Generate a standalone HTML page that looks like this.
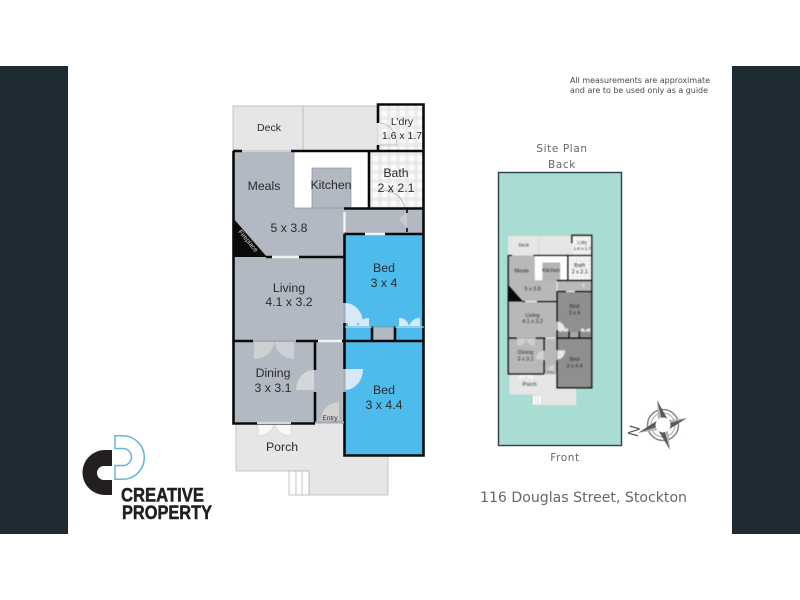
<!DOCTYPE html>
<html><head><meta charset="utf-8"><style>
html,body{margin:0;padding:0;background:#fff}
svg{display:block}
text{font-family:"Liberation Sans",sans-serif}
.p text{fill:#2a2a2a;text-anchor:middle}
.soft{filter:blur(.35px)}
.soft2{filter:blur(.45px)}
</style></head><body>
<svg width="800" height="600" viewBox="0 0 800 600" xmlns="http://www.w3.org/2000/svg">
<defs>
<pattern id="ck" x="369" y="152" width="9" height="9" patternUnits="userSpaceOnUse"><rect width="9" height="9" fill="#fbfbfb"/><rect x="0" width="4" height="9" fill="#e4e4e4" opacity=".55"/><rect y="0" width="9" height="4" fill="#e4e4e4" opacity=".55"/></pattern>
</defs>
<rect width="800" height="600" fill="#fff"/>
<rect x="0" y="66" width="68" height="468" fill="#1f2b33"/>
<rect x="732" y="66" width="68" height="468" fill="#1f2b33"/>

<g class="soft">
<!-- floors -->
<rect x="233" y="106" width="145" height="45" fill="#e6e6e6" stroke="#b9b9b9" stroke-width=".8"/>
<line x1="303" y1="106" x2="303" y2="151" stroke="#b5b5b5" stroke-width=".8"/>
<path d="M236 422H344V455H388V495H309V471H236Z" fill="#e6e6e6" stroke="#b9b9b9" stroke-width=".8"/>
<rect x="289" y="471" width="20" height="24" fill="#fff" stroke="#b5b5b5" stroke-width=".8"/>
<path d="M296 471V495M302 471V495" stroke="#b5b5b5" stroke-width=".8"/>
<rect x="378" y="105" width="46" height="47" fill="url(#ck)"/>
<rect x="369" y="152" width="55" height="56" fill="url(#ck)"/>
<path d="M233 152H294V208H312V168H351V208H344V257H233Z" fill="#b3b9c2"/>
<rect x="294" y="152" width="75" height="56" fill="#fff"/>
<rect x="312" y="168" width="39" height="40" fill="#b3b9c2" stroke="#8f949b" stroke-width=".7"/>
<path d="M294 152V208H312" fill="none" stroke="#8f949b" stroke-width=".7"/>
<rect x="344" y="208" width="80" height="26" fill="#b3b9c2"/>
<rect x="233" y="257" width="111" height="84" fill="#b3b9c2"/>
<rect x="233" y="341" width="111" height="81" fill="#b3b9c2"/>
<rect x="344" y="234" width="80" height="221" fill="#4dbcec"/>
<rect x="372" y="327" width="23" height="14" fill="#b3b9c2"/>
<path d="M233 218L267 257H233Z" fill="#0a0a0a"/>
<!-- door leaves -->
<path d="M345 323V303A18 20 0 0 1 363 323Z" fill="#d7e9f9"/>
<path d="M345 369H363A18 21 0 0 1 345 390Z" fill="#d7e9f9"/>
<path d="M348 326V318Q356 318 358 326ZM369 326V318Q361 318 358 326ZM399 326V318Q407 318 409 326ZM420 326V318Q412 318 409 326Z" fill="#d7e9f9"/>
<path d="M254 342V359A20 17 0 0 0 274 342ZM294 342V359A20 17 0 0 1 275 342Z" fill="#cdd0d3"/>
<path d="M314 370A18 20 0 0 0 296 390H314Z" fill="#d4d6d8"/>
<path d="M339 402A18 18 0 0 0 321 420H339Z" fill="#d2d2d2"/>
<path d="M258 423V436A17 13 0 0 0 274 423ZM291 423V436A16 13 0 0 1 275 423Z" fill="#f7f7f7" stroke="#c9c9c9" stroke-width=".5"/>
<path d="M407 212V228L399 219Z" fill="#c9cbce"/>
<path d="M383 190Q401 192 405 208" fill="none" stroke="#a8a8a8" stroke-width=".7"/>
<path d="M380 123Q395 124 397 145H380" fill="none" stroke="#b5b5b5" stroke-width=".7"/>
<!-- walls -->
<g fill="none" stroke="#0a0a0a" stroke-width="2.6">
<path d="M233.5 151V423.5H315"/>
<path d="M233 151H242M291 151H424"/>
<path d="M378 123V104.5H423.5V455.5H344.5V392"/>
<path d="M378 145V152"/>
<path d="M369 151V208"/>
<path d="M344 208.5H424"/>
<path d="M344.5 234H365M385 234H424"/>
<path d="M344.5 234V303M344.5 323V369"/>
<path d="M266 257H272M299 257H344"/>
<path d="M233 341H253M296 341H318M342 341H424"/>
<path d="M315 341V370M315 392V423"/>
<path d="M344 422V424"/>
<path d="M372 326V341M395 326V341"/>
</g>
<path d="M345 327H372M395 327H424" stroke="#d5e3ea" stroke-width="1"/>
<path d="M407 208V213M407 228V232" stroke="#0a0a0a" stroke-width="1.6"/>
<path d="M242 151H291" stroke="#cfcfcf" stroke-width="2"/>
<path d="M272 257H299M318 341H342M344.5 212V232M365 234H385" stroke="#f2f2f2" stroke-width="2.4" fill="none"/>
<path d="M253 341H296M315 422.5H344M344.5 303V323M344.5 369V392" stroke="#a6aaae" stroke-width="2" fill="none"/>
<path d="M257 423H291" stroke="#d8d8d8" stroke-width="2.5"/>
<path d="M372 327H395" stroke="#8c9096" stroke-width=".8"/>
<!-- labels -->
<g class="p">
<text x="269" y="131" font-size="10.5">Deck</text>
<text x="402" y="125" font-size="10.5">L’dry</text>
<text x="402" y="139" font-size="10.5">1.6 x 1.7</text>
<text x="264" y="190" font-size="12.3">Meals</text>
<text x="331" y="189" font-size="12.3">Kitchen</text>
<text x="396" y="177" font-size="12.3">Bath</text>
<text x="396" y="192" font-size="12.3">2 x 2.1</text>
<text x="289" y="232" font-size="12.3">5 x 3.8</text>
<text x="384" y="272" font-size="12.3">Bed</text>
<text x="384" y="287" font-size="12.3">3 x 4</text>
<text x="289" y="292" font-size="12.3">Living</text>
<text x="289" y="306" font-size="12.3">4.1 x 3.2</text>
<text x="273" y="377" font-size="12.3">Dining</text>
<text x="273" y="392" font-size="12.3">3 x 3.1</text>
<text x="384" y="394" font-size="12.3">Bed</text>
<text x="384" y="409" font-size="12.3">3 x 4.4</text>
<text x="282" y="451" font-size="12.3">Porch</text>
<text x="330" y="420" font-size="6.5">Entry</text>
<text x="0" y="0" font-size="6.5" transform="translate(238 232) rotate(50)" style="fill:#ddd;text-anchor:start">Fireplace</text>
</g>
</g>

<!-- site plan -->
<rect x="498.5" y="172.5" width="123" height="273" fill="#a9dcd3" stroke="#2d4046" stroke-width="1.4"/>
<g class="soft2">
<g transform="translate(508 235) scale(.44 .435) translate(-233 -104)">
<rect x="233" y="106" width="145" height="45" fill="#e6e6e6"/>
<line x1="303" y1="106" x2="303" y2="151" stroke="#c2c2c2" stroke-width=".8"/>
<path d="M236 422H344V455H388V495H309V471H236Z" fill="#e6e6e6"/>
<rect x="289" y="471" width="20" height="24" fill="#fff" stroke="#b5b5b5" stroke-width=".8"/>
<path d="M296 471V495M302 471V495" stroke="#b5b5b5" stroke-width="1.2"/>
<rect x="378" y="105" width="46" height="47" fill="url(#ck)"/>
<rect x="369" y="152" width="55" height="56" fill="url(#ck)"/>
<path d="M233 152H294V208H312V168H351V208H344V257H233Z" fill="#b8b8b8"/>
<rect x="294" y="152" width="75" height="56" fill="#fff"/>
<rect x="312" y="168" width="39" height="40" fill="#b4b4b4" stroke="#999" stroke-width=".7"/>
<rect x="344" y="208" width="80" height="26" fill="#b8b8b8"/>
<rect x="233" y="257" width="111" height="84" fill="#b8b8b8"/>
<rect x="233" y="341" width="111" height="81" fill="#b8b8b8"/>
<rect x="344" y="234" width="80" height="221" fill="#8f8f8f"/>
<rect x="372" y="327" width="23" height="14" fill="#a8a8a8"/>
<path d="M233 218L267 257H233Z" fill="#0a0a0a"/>
<path d="M345 323V303A18 20 0 0 1 363 323Z" fill="#e8e8e8"/>
<path d="M345 369H363A18 21 0 0 1 345 390Z" fill="#e8e8e8"/>
<path d="M348 326V318Q356 318 358 326ZM369 326V318Q361 318 358 326ZM399 326V318Q407 318 409 326ZM420 326V318Q412 318 409 326Z" fill="#e8e8e8"/>
<path d="M254 342V359A20 17 0 0 0 274 342ZM294 342V359A20 17 0 0 1 275 342Z" fill="#cfcfcf"/>
<path d="M314 370A18 20 0 0 0 296 390H314Z" fill="#d4d4d4"/>
<path d="M339 402A18 18 0 0 0 321 420H339Z" fill="#d2d2d2"/>
<path d="M258 423V436A17 13 0 0 0 274 423ZM291 423V436A16 13 0 0 1 275 423Z" fill="#f7f7f7"/>
<path d="M407 212V228L399 219Z" fill="#d0d0d0"/>
<g fill="none" stroke="#0a0a0a" stroke-width="2.8">
<path d="M233.5 151V423.5H315"/>
<path d="M233 151H242M291 151H424"/>
<path d="M378 123V104.5H423.5V455.5H344.5V392"/>
<path d="M369 151V208"/>
<path d="M344 208.5H424"/>
<path d="M344.5 234H365M385 234H424"/>
<path d="M344.5 234V303M344.5 323V369"/>
<path d="M266 257H272M299 257H344"/>
<path d="M233 341H253M296 341H318M342 341H424"/>
<path d="M315 341V370M315 392V423"/>
<path d="M372 326V341M395 326V341"/>
</g>
<path d="M272 257H299M318 341H342M344.5 212V232M365 234H385" stroke="#f2f2f2" stroke-width="2.6" fill="none"/>
<path d="M253 341H296M315 422.5H344M344.5 303V323M344.5 369V392" stroke="#a6a6a6" stroke-width="2.4" fill="none"/>
<g class="p">
<text x="269" y="131" font-size="10.5">Deck</text>
<text x="402" y="125" font-size="10.5">L’dry</text>
<text x="402" y="139" font-size="10.5">1.6 x 1.7</text>
<text x="264" y="190" font-size="12.3">Meals</text>
<text x="331" y="189" font-size="12.3">Kitchen</text>
<text x="396" y="177" font-size="12.3">Bath</text>
<text x="396" y="192" font-size="12.3">2 x 2.1</text>
<text x="289" y="232" font-size="12.3">5 x 3.8</text>
<text x="384" y="272" font-size="12.3">Bed</text>
<text x="384" y="287" font-size="12.3">3 x 4</text>
<text x="289" y="292" font-size="12.3">Living</text>
<text x="289" y="306" font-size="12.3">4.1 x 3.2</text>
<text x="273" y="377" font-size="12.3">Dining</text>
<text x="273" y="392" font-size="12.3">3 x 3.1</text>
<text x="384" y="394" font-size="12.3">Bed</text>
<text x="384" y="409" font-size="12.3">3 x 4.4</text>
<text x="282" y="451" font-size="12.3">Porch</text>
<text x="330" y="420" font-size="6.5">Entry</text>
</g>
</g>
</g>

<!-- captions -->
<g fill="#4a4a4a" font-size="8.2" class="soft">
<text x="570" y="83" textLength="140" lengthAdjust="spacingAndGlyphs" style="font-family:'DejaVu Sans',sans-serif">All measurements are approximate</text>
<text x="570" y="93" textLength="138" lengthAdjust="spacingAndGlyphs" style="font-family:'DejaVu Sans',sans-serif">and are to be used only as a guide</text>
</g>
<g fill="#666" text-anchor="middle" class="soft" style="letter-spacing:.6px">
<text x="562" y="152" style="font-family:'DejaVu Sans',sans-serif" font-size="10.5">Site Plan</text>
<text x="562" y="168" style="font-family:'DejaVu Sans',sans-serif" font-size="10.5">Back</text>
<text x="565" y="461" style="font-family:'DejaVu Sans',sans-serif" font-size="10.5">Front</text>
</g>
<text x="480" y="502" fill="#6a6664" font-size="14" textLength="207" lengthAdjust="spacingAndGlyphs" style="font-family:'DejaVu Sans',sans-serif" class="soft">116 Douglas Street, Stockton</text>

<!-- compass -->
<g class="soft">
<circle cx="663" cy="425" r="15.5" fill="none" stroke="#8a8a8a" stroke-width="1.6"/>
<circle cx="663" cy="425" r="12" fill="none" stroke="#a8a8a8" stroke-width="1"/>
<path d="M657 400L668 420L663 425Z" fill="#5a5a5a"/><path d="M657 400L658 420L663 425Z" fill="#b5b5b5"/>
<path d="M687 418L668 430L663 425Z" fill="#5a5a5a"/><path d="M687 418L668 420L663 425Z" fill="#b5b5b5"/>
<path d="M670 450L658 430L663 425Z" fill="#5a5a5a"/><path d="M670 450L668 430L663 425Z" fill="#b5b5b5"/>
<path d="M638 433L658 420L663 425Z" fill="#5a5a5a"/><path d="M638 433L658 430L663 425Z" fill="#b5b5b5"/>
<path d="M677 407L666 421L663 425ZM681 438L667 428L663 425ZM649 443L660 429L663 425ZM645 411L659 422L663 425Z" fill="#777"/>
<circle cx="663" cy="425" r="7.5" fill="#fff"/>
<text x="0" y="0" font-size="15" fill="#555" transform="translate(634 431) rotate(-75)" text-anchor="middle" dy="5" style="font-family:'Liberation Sans',sans-serif">N</text>
</g>

<!-- logo -->
<g class="soft">
<path d="M112 450H105A22.5 22.5 0 0 0 105 495H112V480H104A7 7 0 0 1 104 466H112Z" fill="#231f20"/>
<path d="M115 435.7H122.5A21.8 21.8 0 0 1 122.5 479.3H115V465.5H123A8 8 0 0 0 123 448.5H115Z" fill="none" stroke="#62b7d9" stroke-width="1.5"/>
<text x="121" y="501.5" font-size="19" font-weight="bold" fill="#231f20" stroke="#231f20" stroke-width=".5" textLength="83" lengthAdjust="spacingAndGlyphs">CREATIVE</text>
<text x="122" y="519" font-size="19" font-weight="bold" fill="#231f20" stroke="#231f20" stroke-width=".5" textLength="90" lengthAdjust="spacingAndGlyphs">PROPERTY</text>
</g>
</svg>
</body></html>
